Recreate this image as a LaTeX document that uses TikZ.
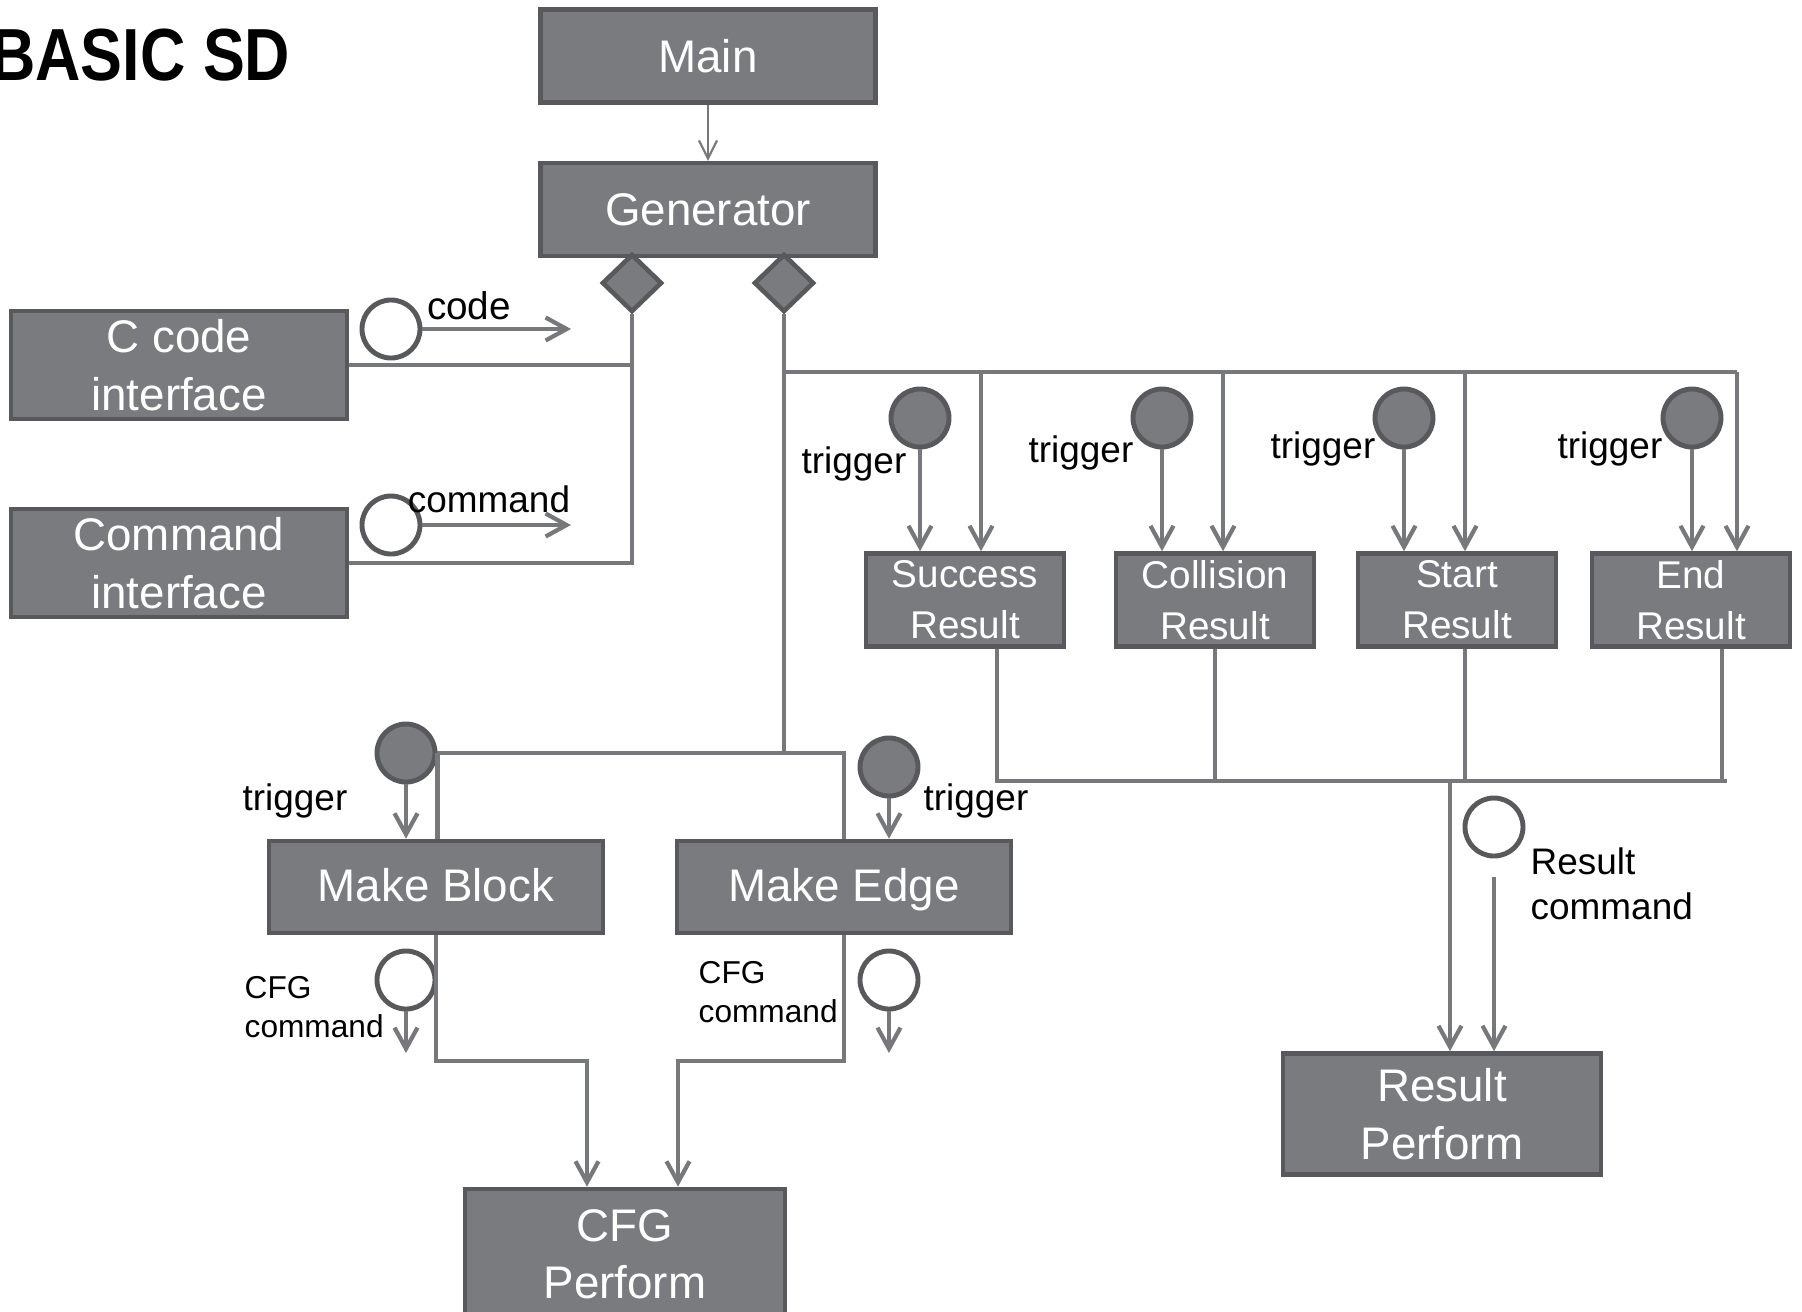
\documentclass[tikz,border=0pt]{standalone}
\usepackage{fontspec}
\setmainfont{Liberation Sans}
\usetikzlibrary{shapes,arrows.meta,positioning}
\definecolor{boxfill}{HTML}{7A7B7F}
\definecolor{boxline}{HTML}{58595C}
\definecolor{wire}{HTML}{77787C}
\tikzstyle{blk}=[rectangle,draw=boxline,line width=1.3pt,fill=boxfill,text=white,align=center,inner sep=0pt,font=\fontsize{13}{16.3}\selectfont]
\tikzstyle{res}=[blk,minimum width=1.98cm,minimum height=0.93cm,font=\fontsize{11}{14.5}\selectfont]
\tikzstyle{mk}=[blk,minimum width=3.34cm,minimum height=0.92cm,text height=0.8em,text depth=0em]
\tikzstyle{dia}=[diamond,draw=boxline,fill=boxfill,line width=1.3pt,aspect=1,inner sep=0pt,minimum width=0.6cm,minimum height=0.58cm]
\tikzstyle{evt}=[circle,draw=boxline,fill=boxfill,line width=1.4pt,inner sep=0pt,minimum size=0.58cm]
\tikzstyle{msg}=[circle,draw=boxline,fill=white,line width=1.4pt,inner sep=0pt,minimum size=0.58cm]
\tikzstyle{lab}=[inner sep=0pt,align=left,font=\fontsize{10.5}{12.8}\selectfont]
\tikzstyle{slab}=[inner sep=0pt,align=left,font=\fontsize{9}{11}\selectfont]
\tikzstyle{lnk}=[draw=wire,line width=1.2pt]
\tikzstyle{arr}=[lnk,-{Straight Barb[length=2.1mm,width=2.3mm]}]
\tikzstyle{tarr}=[draw=wire,line width=0.6pt,-{Straight Barb[length=1.8mm,width=1.8mm]}]

\begin{document}
\begin{tikzpicture}[x=0.01cm,y=-0.01cm]
\useasboundingbox (0,0) rectangle (1802,1311);
\node[anchor=east,inner sep=0pt,font=\fontsize{21}{24}\selectfont\bfseries] (T) at (291,55) {\scalebox{0.85}[1]{BASIC SD}};
% top
\node[blk,minimum width=3.35cm,minimum height=0.93cm] (M) at (708,56) {Main};
\node[blk,minimum width=3.35cm,minimum height=0.93cm,below=0.56cm of M] (G) {Generator};
\node[dia] (DL) at (632,283) {};
\node[dia] (DR) at (784,283) {};
% interfaces
\node[blk,minimum width=3.36cm,minimum height=1.08cm] (CI) at (179,365) {C code\\interface};
\node[blk,minimum width=3.36cm,minimum height=1.08cm] (CMI) at (179,563) {Command\\interface};
\node[msg] (C1) at (391,329) {};
\node[msg] (C2) at (391,525) {};
\coordinate (c1e) at (571,329);
\coordinate (c2e) at (571,525);
\node[lab,font=\fontsize{11}{13}\selectfont] (Lcode) at (469,306) {code};
\node[lab] (Lcmd) at (489,499) {command};
% results
\node[res] (SR) at (965,600) {Success\\Result};
\node[res] (CR) at (1215,600) {Collision\\Result};
\node[res] (STR) at (1457,600) {Start\\Result};
\node[res] (ER) at (1691,600) {End\\Result};
\node[evt] (T1) at (920,418) {};
\node[evt] (T2) at (1162,418) {};
\node[evt] (T3) at (1404,418) {};
\node[evt] (T4) at (1692,418) {};
\node[lab] (L1) at (854,464) {trigger};
\node[lab] (L2) at (1081,453) {trigger};
\node[lab] (L3) at (1323,449) {trigger};
\node[lab] (L4) at (1610,449) {trigger};
\node[blk,minimum width=3.18cm,minimum height=1.21cm] (RP) at (1442,1114) {Result\\Perform};
\node[msg] (RC) at (1494,827) {};
\node[lab,anchor=west] (LRC) at (1530,884) {Result\\command};
% CFG part
\node[mk] (MB) at (436,887) {Make Block};
\node[mk] (ME) at (844,887) {Make Edge};
\node[evt] (TB) at (406,753) {};
\node[evt] (TE) at (889,767) {};
\node[lab] (L5) at (295,801) {trigger};
\node[lab] (L6) at (976,801) {trigger};
\node[msg] (O1) at (406,980) {};
\node[msg] (O2) at (889,980) {};
\coordinate (o1e) at (406,1053);
\coordinate (o2e) at (889,1053);
\node[slab,anchor=west] (L7) at (244,1007) {CFG\\command};
\node[slab,anchor=west] (L8) at (698,992) {CFG\\command};
\node[blk,minimum width=3.2cm,minimum height=1.3cm] (CP) at (625,1254) {CFG\\Perform};
% connectors
\draw[tarr] (M) -- (G);
\draw[lnk] (CI.east) -- (CI.east -| DL.south);
\draw[lnk] (DL.south) -- (DL.south |- CMI.east) -- (CMI.east);
\draw[arr] (C1.east) -- (c1e);
\draw[arr] (C2.east) -- (c2e);
\coordinate (busT) at (1737,372);
\draw[lnk] (DR.south) -- (DR.south |- TB.east);
\draw[lnk] (DR.south |- busT) -- (busT);
\draw[arr] ([xshift=1.6mm]SR.north |- busT) -- ([xshift=1.6mm]SR.north);
\draw[arr] ([xshift=0.8mm]CR.north |- busT) -- ([xshift=0.8mm]CR.north);
\draw[arr] ([xshift=0.8mm]STR.north |- busT) -- ([xshift=0.8mm]STR.north);
\draw[arr] (busT) -- (busT |- ER.north);
\draw[arr] (T1) -- (T1 |- SR.north);
\draw[arr] (T2) -- (T2 |- CR.north);
\draw[arr] (T3) -- (T3 |- STR.north);
\draw[arr] (T4) -- (T4 |- ER.north);
\coordinate (busB) at (1727,781);
\coordinate (rpIn) at (1450,781);
\draw[lnk] ([xshift=3.2mm]SR.south) |- (busB);
\draw[lnk] (CR.south) -- (CR.south |- busB);
\draw[lnk] ([xshift=0.8mm]STR.south) -- ([xshift=0.8mm]STR.south |- busB);
\draw[lnk] ([xshift=3.1mm]ER.south) -- ([xshift=3.1mm]ER.south |- busB);
\draw[arr] (rpIn) -- (rpIn |- RP.north);
\draw[arr] ([yshift=-1.8mm]RC.south) -- (RC.south |- RP.north);
\draw[lnk] (TB.east) -| (ME.north);
\draw[lnk] (TB.east) -- (TB.east |- MB.north);
\draw[arr] (TB) -- (TB |- MB.north);
\draw[arr] (TE) -- (TE |- ME.north);
\draw[arr] (O1.south) -- (o1e);
\draw[arr] (O2.south) -- (o2e);
\coordinate (kB) at (587,1061);
\coordinate (kE) at (678,1061);
\draw[arr] (MB.south) |- (kB) -- (kB |- CP.north);
\draw[arr] (ME.south) |- (kE) -- (kE |- CP.north);
\end{tikzpicture}
\end{document}
